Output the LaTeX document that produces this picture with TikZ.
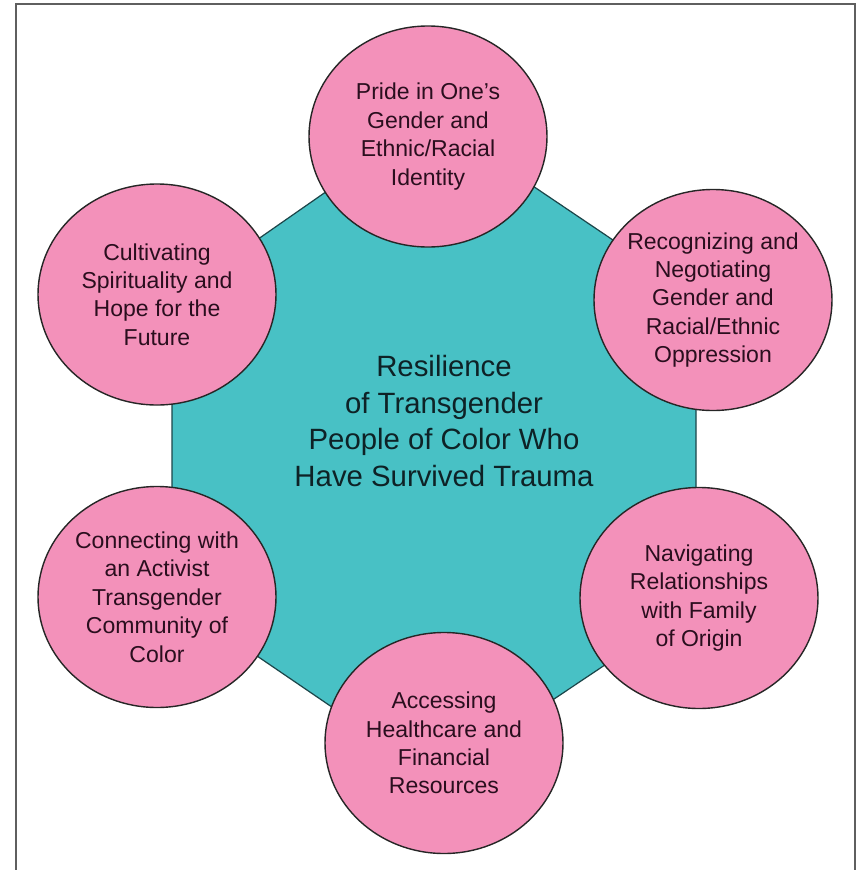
\documentclass[tikz,border=0pt]{standalone}
\usepackage{fontspec}
\setmainfont{Liberation Sans}
\usetikzlibrary{shapes.geometric}

\definecolor{hubteal}{RGB}{72,193,197}
\definecolor{hubedge}{RGB}{28,70,74}
\definecolor{bubblepink}{RGB}{243,145,186}
\definecolor{bubbletext}{RGB}{42,14,30}
\definecolor{hubtext}{RGB}{14,34,38}
\definecolor{framegray}{RGB}{95,95,95}

\begin{document}
\begin{tikzpicture}[bubble/.style={ellipse,draw=black!85,line width=0.8pt,fill=bubblepink,minimum width=4.76cm,minimum height=4.42cm,inner sep=-3pt,align=center,text=bubbletext,font=\fontsize{13.1}{16.2}\selectfont}]

    \useasboundingbox (0,0) rectangle (17.24,-17.4);

    % open frame, no bottom edge
    \draw[framegray,line width=1.1pt] (0.32,-17.4) -- (0.32,-0.08) -- (17.1,-0.08) -- (17.1,-17.4);

    % hexagonal hub behind the bubbles
    \filldraw[fill=hubteal,draw=hubedge,line width=0.7pt] (8.64,-2.36) -- (13.92,-5.92) -- (13.92,-12.08) -- (8.72,-15.56) -- (3.44,-11.96) -- (3.44,-5.98) -- cycle;
    \node[align=center,text=hubtext,font=\fontsize{16.7}{20.9}\selectfont] (0) at (8.88,-8.42) {Resilience\\ of Transgender\\ People of Color Who\\ Have Survived Trauma};

    \node[bubble] (1) at (8.56,-2.73) {Pride in One's\\ Gender and\\ Ethnic/Racial\\ Identity};
    \node[bubble] (2) at (14.26,-6.0) {Recognizing and\\ Negotiating\\ Gender and\\ Racial/Ethnic\\ Oppression};
    \node[bubble] (3) at (13.98,-11.96) {Navigating\\ Relationships\\ with Family\\ of Origin};
    \node[bubble] (4) at (8.88,-14.86) {Accessing\\ Healthcare and\\ Financial\\ Resources};
    \node[bubble] (5) at (3.14,-11.94) {Connecting with\\ an Activist\\ Transgender\\ Community of\\ Color};
    \node[bubble] (6) at (3.14,-5.89) {Cultivating\\ Spirituality and\\ Hope for the\\ Future};
\end{tikzpicture}
\end{document}
